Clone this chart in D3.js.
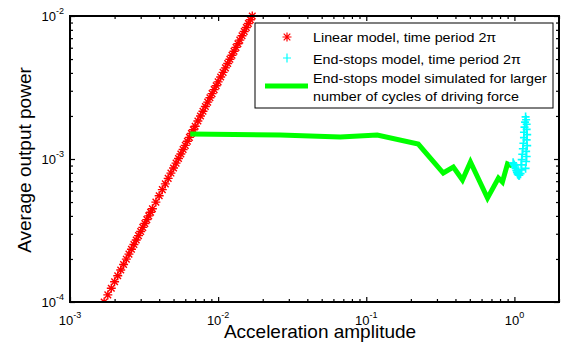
<!DOCTYPE html>
<html>
<head>
<meta charset="utf-8">
<script src="https://cdn.jsdelivr.net/npm/d3@7"></script>
<style>
  body { margin: 0; background: #fff; }
  text { font-family: "Liberation Sans", Arial, sans-serif; fill: #000; }
</style>
</head>
<body>
<div id="chart"></div>
<script>
// linear model (red stars)
var linAccel = [0.0017, 0.0018, 0.0019, 0.0020, 0.0021, 0.0022, 0.0023, 0.0024, 0.0025, 0.0026,
  0.0027, 0.0028, 0.0029, 0.0030, 0.0031, 0.0032, 0.0033, 0.0034, 0.0035, 0.0036,
  0.0038, 0.0040, 0.0042, 0.0044, 0.0046, 0.0048, 0.0050, 0.0052, 0.0054, 0.0056,
  0.0058, 0.0060, 0.0062, 0.0064, 0.0066, 0.0068, 0.0070, 0.0073, 0.0076, 0.0079,
  0.0082, 0.0085, 0.0088, 0.0091, 0.0094, 0.0097, 0.0100, 0.0104, 0.0108, 0.0112,
  0.0116, 0.0120, 0.0124, 0.0128, 0.0132, 0.0136, 0.0140, 0.0145, 0.0150, 0.0155,
  0.0160, 0.0165, 0.0170];
var linPower = [1.000e-4, 1.121e-4, 1.249e-4, 1.384e-4, 1.526e-4, 1.675e-4, 1.830e-4, 1.993e-4, 2.163e-4, 2.339e-4,
  2.522e-4, 2.713e-4, 2.910e-4, 3.114e-4, 3.325e-4, 3.543e-4, 3.768e-4, 4.000e-4, 4.239e-4, 4.484e-4,
  4.996e-4, 5.536e-4, 6.103e-4, 6.699e-4, 7.321e-4, 7.972e-4, 8.650e-4, 9.356e-4, 1.009e-3, 1.085e-3,
  1.164e-3, 1.246e-3, 1.330e-3, 1.417e-3, 1.507e-3, 1.600e-3, 1.695e-3, 1.844e-3, 1.998e-3, 2.159e-3,
  2.327e-3, 2.500e-3, 2.679e-3, 2.865e-3, 3.057e-3, 3.256e-3, 3.460e-3, 3.742e-3, 4.036e-3, 4.340e-3,
  4.656e-3, 4.982e-3, 5.320e-3, 5.669e-3, 6.029e-3, 6.400e-3, 6.782e-3, 7.275e-3, 7.785e-3, 8.313e-3,
  8.858e-3, 9.420e-3, 9.999e-3];

// end-stops model, time period 2pi (cyan plus)
var endAccel = [0.98, 0.99, 1.00, 1.01, 1.02, 1.03, 1.04, 1.05, 1.06, 1.07, 1.08, 1.10, 1.12, 1.19,
  1.11, 1.20, 1.12, 1.21, 1.13, 1.20, 1.14, 1.22, 1.15, 1.21, 1.16, 1.22, 1.16, 1.21, 1.17, 1.21,
  1.18, 1.20, 1.19];
var endPower = [9.4e-4, 9.2e-4, 9.0e-4, 8.8e-4, 8.6e-4, 8.3e-4, 8.1e-4, 7.9e-4, 7.8e-4, 7.7e-4, 7.7e-4, 7.9e-4, 8.4e-4, 8.6e-4,
  9.1e-4, 9.6e-4, 9.9e-4, 1.04e-3, 1.08e-3, 1.13e-3, 1.18e-3, 1.24e-3, 1.29e-3, 1.36e-3, 1.41e-3, 1.48e-3,
  1.54e-3, 1.61e-3, 1.67e-3, 1.75e-3, 1.81e-3, 1.88e-3, 1.97e-3];

// end-stops model, larger number of cycles (green line)
var longAccel = [0.00648, 0.0262, 0.0667, 0.1186, 0.2244, 0.331, 0.387, 0.446, 0.505, 0.658, 0.780, 0.830, 0.898, 0.968];
var longPower = [1.496e-3, 1.472e-3, 1.426e-3, 1.472e-3, 1.273e-3, 7.98e-4, 8.79e-4, 7.13e-4, 9.53e-4, 5.33e-4, 7.36e-4, 6.90e-4, 9.23e-4, 8.93e-4];

var xMajor = [1e-3, 1e-2, 1e-1, 1];
var xExp = ["-3", "-2", "-1", "0"];
var yMajor = [1e-4, 1e-3, 1e-2];
var yExp = ["-4", "-3", "-2"];

var legendLabels = ["Linear model, time period 2\u03c0", "End-stops model, time period 2\u03c0",
  "End-stops model simulated for larger", "number of cycles of driving force"];

var svgWidth = 573, svgHeight = 352;
var plotLeft = 70, plotRight = 559, plotTop = 16, plotBottom = 302;

var svg = d3.select("#chart").append("svg")
  .attr("width", svgWidth)
  .attr("height", svgHeight);

var x = d3.scaleLog().domain([1e-3, 2]).range([plotLeft, plotRight]);
var y = d3.scaleLog().domain([1e-4, 1e-2]).range([plotBottom, plotTop]);

var xMinor = x.ticks().filter(d => xMajor.indexOf(d) < 0);
var yMinor = y.ticks().filter(d => yMajor.indexOf(d) < 0);

// clip for the data
svg.append("clipPath").attr("id", "clip")
  .append("rect").attr("x", plotLeft).attr("y", plotTop - 5)
  .attr("width", plotRight - plotLeft + 4).attr("height", plotBottom - plotTop + 5);

var plot = svg.append("g").attr("clip-path", "url(#clip)");

var star = "M-4.5,0H4.5M0,-4.5V4.5M-3.3,-3.3L3.3,3.3M-3.3,3.3L3.3,-3.3";
var plus = "M-4,0H4M0,-4.5V4.5";

var linData = linAccel.map((a, i) => [a, linPower[i]]);
plot.selectAll(".lin").data(linData).enter().append("path")
  .attr("class", "lin")
  .attr("d", star)
  .attr("transform", d => `translate(${x(d[0])},${y(d[1])})`)
  .attr("stroke", "#ff0000")
  .attr("stroke-width", 1.4)
  .attr("fill", "none");

var longData = longAccel.map((a, i) => [a, longPower[i]]);
plot.append("path")
  .datum(longData)
  .attr("d", d3.line().x(d => x(d[0])).y(d => y(d[1])))
  .attr("fill", "none")
  .attr("stroke", "#00ff00")
  .attr("stroke-width", 5)
  .attr("stroke-linejoin", "miter");

var endData = endAccel.map((a, i) => [a, endPower[i]]);
plot.selectAll(".end").data(endData).enter().append("path")
  .attr("class", "end")
  .attr("d", plus)
  .attr("transform", d => `translate(${x(d[0])},${y(d[1])})`)
  .attr("stroke", "#00ffff")
  .attr("stroke-width", 1.6)
  .attr("fill", "none");

// axes with inward ticks on all four sides
function addAxis(axis, tr) {
  var g = svg.append("g").attr("transform", tr).call(axis);
  g.select(".domain").remove();
  g.selectAll("line").attr("stroke", "#000").attr("stroke-width", 1.2);
  return g;
}
addAxis(d3.axisBottom(x).tickValues(xMajor).tickSize(-5).tickFormat(""), `translate(0,${plotBottom})`);
addAxis(d3.axisBottom(x).tickValues(xMinor).tickSize(-3).tickFormat(""), `translate(0,${plotBottom})`);
addAxis(d3.axisTop(x).tickValues(xMajor).tickSize(-5).tickFormat(""), `translate(0,${plotTop})`);
addAxis(d3.axisTop(x).tickValues(xMinor).tickSize(-3).tickFormat(""), `translate(0,${plotTop})`);
addAxis(d3.axisLeft(y).tickValues(yMajor).tickSize(-5).tickFormat(""), `translate(${plotLeft},0)`);
addAxis(d3.axisLeft(y).tickValues(yMinor).tickSize(-3).tickFormat(""), `translate(${plotLeft},0)`);
addAxis(d3.axisRight(y).tickValues(yMajor).tickSize(-5).tickFormat(""), `translate(${plotRight},0)`);
addAxis(d3.axisRight(y).tickValues(yMinor).tickSize(-3).tickFormat(""), `translate(${plotRight},0)`);

svg.append("rect")
  .attr("x", plotLeft).attr("y", plotTop)
  .attr("width", plotRight - plotLeft).attr("height", plotBottom - plotTop)
  .attr("fill", "none").attr("stroke", "#000").attr("stroke-width", 2);

// tick labels
var xl = svg.selectAll(".xlab").data(xMajor).enter().append("text")
  .attr("x", d => x(d))
  .attr("y", plotBottom + 23)
  .attr("text-anchor", "middle")
  .style("font-size", "13px");
xl.append("tspan").text("10");
xl.append("tspan").attr("dy", -7).style("font-size", "9px").text((d, i) => xExp[i]);

var yl = svg.selectAll(".ylab").data(yMajor).enter().append("text")
  .attr("x", plotLeft - 6)
  .attr("y", d => y(d) + 5)
  .attr("text-anchor", "end")
  .style("font-size", "13px");
yl.append("tspan").text("10");
yl.append("tspan").attr("dy", -7).style("font-size", "9px").text((d, i) => yExp[i]);

// axis titles
svg.append("text")
  .attr("x", 320).attr("y", 338)
  .attr("text-anchor", "middle")
  .style("font-size", "19px")
  .text("Acceleration amplitude");

svg.append("text")
  .attr("transform", "translate(31,160) rotate(-90)")
  .attr("text-anchor", "middle")
  .style("font-size", "19px")
  .text("Average output power");

// legend
var lg = svg.append("g");
lg.append("rect")
  .attr("x", 255).attr("y", 23).attr("width", 298).attr("height", 85)
  .attr("fill", "#fff").attr("stroke", "#000").attr("stroke-width", 1);
lg.append("path").attr("d", star).attr("transform", "translate(287,37)")
  .attr("stroke", "#ff0000").attr("stroke-width", 1.2).attr("fill", "none");
lg.append("path").attr("d", plus).attr("transform", "translate(287,58)")
  .attr("stroke", "#00ffff").attr("stroke-width", 1.2).attr("fill", "none");
lg.append("line").attr("x1", 265).attr("x2", 308).attr("y1", 86).attr("y2", 86)
  .attr("stroke", "#00ff00").attr("stroke-width", 5);
var legY = [42, 64, 83, 101];
lg.selectAll(".legtext").data(legendLabels).enter().append("text")
  .attr("transform", (d, i) => `translate(313,${legY[i]}) scale(1.06,1)`)
  .style("font-size", "13.5px")
  .text(d => d);
</script>
</body>
</html>
